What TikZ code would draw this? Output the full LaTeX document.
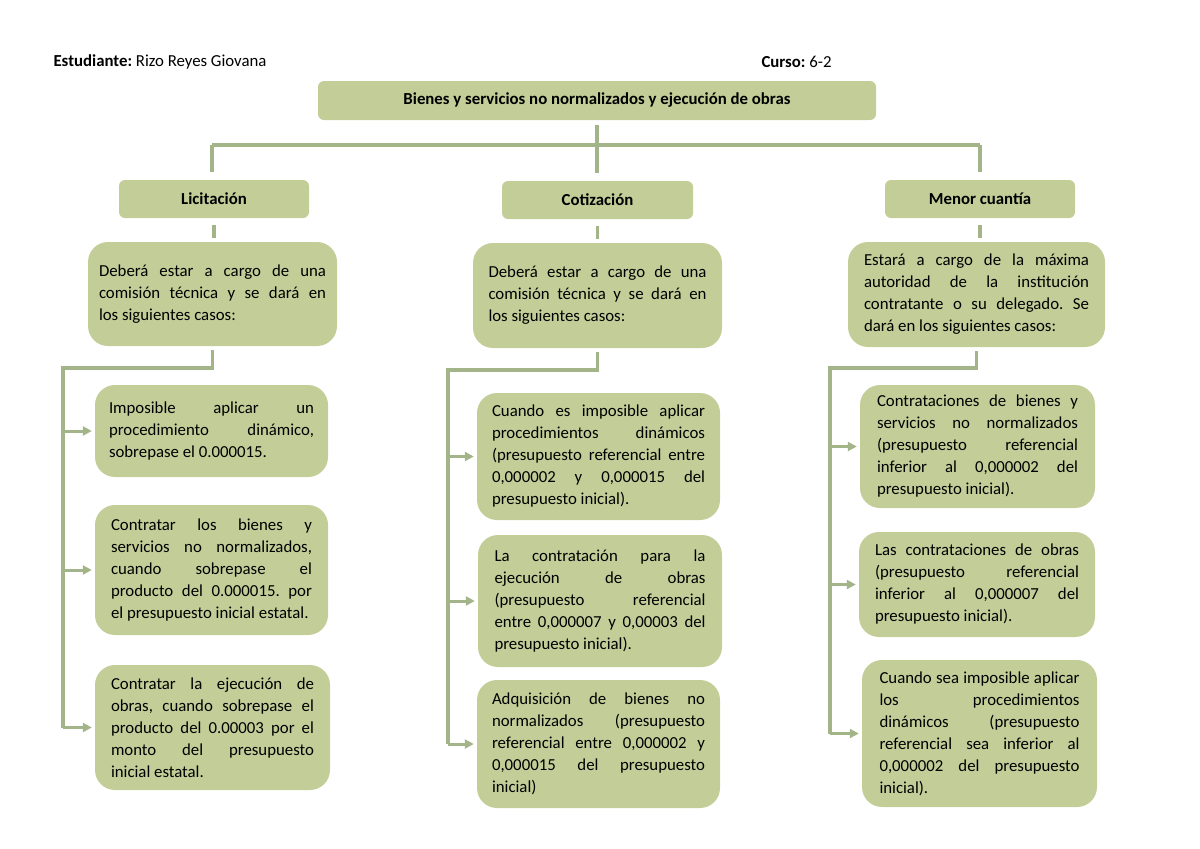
\documentclass[tikz,border=0pt]{standalone}
\usepackage{fontspec}
\setmainfont{Carlito}
\usepackage{tikz}
\usepackage{xcolor}
\usetikzlibrary{
    arrows.meta,
    calc,
    positioning
}
\definecolor{cajaverde}{RGB}{195,205,152}
\definecolor{lineaverde}{RGB}{163,180,137}
\newcommand{\cajafont}{\fontsize{16.8}{22}\selectfont\frenchspacing\tolerance=10000\hbadness=10000\hyphenpenalty=10000}

\begin{document}
\begin{tikzpicture}[
    x=1pt, y=-1pt,
    titulo/.style={fill=cajaverde, rounded corners=6pt, inner sep=0pt, font=\cajafont\bfseries},
    caja/.style={fill=cajaverde, rounded corners=20pt, inner xsep=0pt, inner ysep=0pt, align=justify, font=\cajafont},
    conn/.style={draw=lineaverde, line width=3.3pt},
    flecha/.style={conn, line width=3pt, -{Triangle[length=9pt,width=9pt]}, shorten >=3pt}
]
    \useasboundingbox (0,0) rectangle (1200,849);
    \node[anchor=west, font=\cajafont] (est) at (50,62) {\textbf{Estudiante:} Rizo Reyes Giovana};
    \node[anchor=west, font=\cajafont] (cur) at (758,62) {\textbf{Curso:} 6-2};
    \node[titulo, minimum width=558pt, minimum height=39pt] (tit) at (597,100.5) {Bienes y servicios no normalizados y ejecución de obras};
    \node[titulo, minimum width=190pt, minimum height=38pt] (lic) at (214,199) {Licitación};
    \node[titulo, minimum width=191pt, minimum height=38pt] (cot) at (597.5,200) {Cotización};
    \node[titulo, minimum width=190pt, minimum height=38pt] (men) at (980,199) {Menor cuantía};
    \node[caja, text width=227pt, minimum width=249pt, minimum height=104pt] (lcas) at (212.5,294) {Deberá estar a cargo de una\linebreak comisión técnica y se dará en\linebreak los siguientes casos:};
    \node[caja, text width=218pt, minimum width=249pt, minimum height=105pt] (ccas) at (597.5,295.5) {Deberá estar a cargo de una\linebreak comisión técnica y se dará en\linebreak los siguientes casos:};
    \node[caja, text width=225pt, minimum width=257pt, minimum height=105pt] (mcas) at (976.5,294.5) {Estará a cargo de la máxima\linebreak autoridad de la institución\linebreak contratante o su delegado. Se\linebreak dará en los siguientes casos:};
    \node[caja, text width=205pt, minimum width=233pt, minimum height=92pt] (lc1) at (211.5,431) {Imposible aplicar un\linebreak procedimiento dinámico,\linebreak sobrepase el 0.000015.};
    \node[caja, text width=201pt, minimum width=233pt, minimum height=130pt] (lc2) at (211.5,570) {Contratar los bienes y\linebreak servicios no normalizados,\linebreak cuando sobrepase el\linebreak producto del 0.000015. por\linebreak el presupuesto inicial estatal.};
    \node[caja, text width=203pt, minimum width=235pt, minimum height=125pt] (lc3) at (212.5,727.5) {Contratar la ejecución de\linebreak obras, cuando sobrepase el\linebreak producto del 0.00003 por el\linebreak monto del presupuesto\linebreak inicial estatal.};
    \node[caja, text width=213pt, minimum width=243pt, minimum height=127pt] (cc1) at (598.5,456.5) {Cuando es imposible aplicar\linebreak procedimientos dinámicos\linebreak (presupuesto referencial entre\linebreak 0,000002 y 0,000015 del\linebreak presupuesto inicial).};
    \node[caja, text width=211pt, minimum width=244pt, minimum height=132pt] (cc2) at (600,601) {La contratación para la\linebreak ejecución de obras\linebreak (presupuesto referencial\linebreak entre 0,000007 y 0,00003 del\linebreak presupuesto inicial).};
    \node[caja, text width=213pt, minimum width=243pt, minimum height=128pt] (cc3) at (598.5,744) {Adquisición de bienes no\linebreak normalizados (presupuesto\linebreak referencial entre 0,000002 y\linebreak 0,000015 del presupuesto\linebreak inicial)};
    \node[caja, text width=201pt, minimum width=235pt, minimum height=123pt] (mc1) at (977.5,446.5) {Contrataciones de bienes y\linebreak servicios no normalizados\linebreak (presupuesto referencial\linebreak inferior al 0,000002 del\linebreak presupuesto inicial).};
    \node[caja, text width=204pt, minimum width=236pt, minimum height=105pt] (mc2) at (977,584.5) {Las contrataciones de obras\linebreak (presupuesto referencial\linebreak inferior al 0,000007 del\linebreak presupuesto inicial).};
    \node[caja, text width=200pt, minimum width=235pt, minimum height=147pt] (mc3) at (979.5,733.5) {Cuando sea imposible aplicar\linebreak los procedimientos\linebreak dinámicos (presupuesto\linebreak referencial sea inferior al\linebreak 0,000002 del presupuesto\linebreak inicial).};
    \coordinate (busl) at (212,145);
    \coordinate (busr) at (980,145);
    \coordinate (lk) at (63,368);
    \coordinate (ck) at (448,370);
    \coordinate (mk) at (830,368);
    \draw[conn, shorten <=5pt, shorten >=8pt] (tit.south) -- (tit.south |- cot.north);
    \draw[conn] (busl) -- (busr);
    \draw[conn, shorten >=8pt] (busl) -- (busl |- lic.north);
    \draw[conn, shorten >=8pt] (busr) -- (busr |- men.north);
    \draw[conn, shorten <=7pt, shorten >=4pt] (lic.south) -- (lic.south |- lcas.north);
    \draw[conn, shorten <=7pt, shorten >=4pt] (cot.south) -- (cot.south |- ccas.north);
    \draw[conn, shorten <=7pt, shorten >=4pt] (men.south) -- (men.south |- mcas.north);
    \draw[conn, shorten <=4pt] (lcas.south) |- (lk) -- (lk |- lc3.west);
    \draw[conn, shorten <=4pt] (ccas.south) |- (ck) -- (ck |- cc3.west);
    \draw[conn, shorten <=4pt] (mcas.south) |- (mk) -- (mk |- mc3.west);
    \foreach \b in {lc1,lc2,lc3}
        \draw[flecha] (lk |- \b.west) -- (\b.west);
    \foreach \b in {cc1,cc2,cc3}
        \draw[flecha] (ck |- \b.west) -- (\b.west);
    \foreach \b in {mc1,mc2,mc3}
        \draw[flecha] (mk |- \b.west) -- (\b.west);
\end{tikzpicture}
\end{document}
